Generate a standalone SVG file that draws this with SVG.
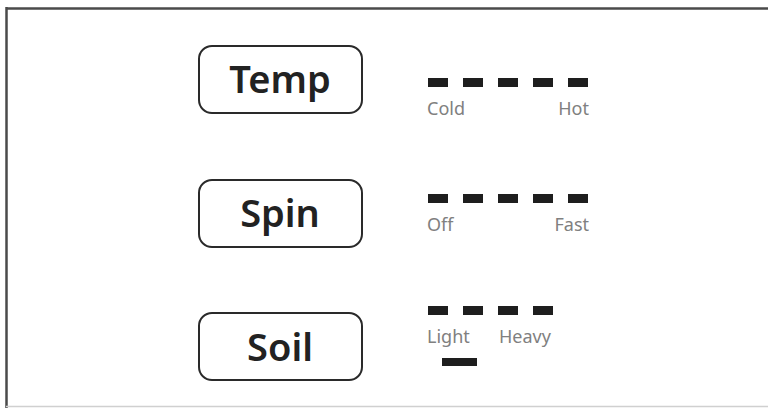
<svg xmlns="http://www.w3.org/2000/svg" width="768" height="408" viewBox="0 0 768 408">
<style>
.btn{fill:#fff;stroke:#2a2a2a;stroke-width:2}
.btxt{font-family:"Noto Sans",sans-serif;font-weight:600;font-size:38px;fill:#222;text-anchor:middle}
.bar{fill:#1e1e1e}
.lbl{font-family:"Noto Sans",sans-serif;font-size:18px;fill:#808080}
</style>
<rect width="768" height="408" fill="#fff"/>
<g id="frame">
<line x1="6" y1="8.5" x2="768" y2="8.5" stroke="#4a4a4a" stroke-width="2.5"/>
<line x1="6.5" y1="7" x2="6.5" y2="408" stroke="#4a4a4a" stroke-width="2.5"/>
<line x1="6" y1="406.5" x2="768" y2="406.5" stroke="#d0d0d0" stroke-width="1.5"/>
</g>
<g id="temp">
<rect class="btn" x="199" y="46" width="163" height="67" rx="13"/>
<text class="btxt" x="280" y="93">Temp</text>
</g>
<g id="temp-scale">
<rect class="bar" x="428" y="78" width="20" height="9"/>
<rect class="bar" x="463" y="78" width="20" height="9"/>
<rect class="bar" x="498" y="78" width="20" height="9"/>
<rect class="bar" x="533" y="78" width="20" height="9"/>
<rect class="bar" x="568" y="78" width="20" height="9"/>
<text class="lbl" x="427" y="115">Cold</text>
<text class="lbl" x="589" y="115" text-anchor="end">Hot</text>
</g>
<g id="spin">
<rect class="btn" x="199" y="180" width="163" height="67" rx="13"/>
<text class="btxt" x="280" y="227">Spin</text>
</g>
<g id="spin-scale">
<rect class="bar" x="428" y="194" width="20" height="9"/>
<rect class="bar" x="463" y="194" width="20" height="9"/>
<rect class="bar" x="498" y="194" width="20" height="9"/>
<rect class="bar" x="533" y="194" width="20" height="9"/>
<rect class="bar" x="568" y="194" width="20" height="9"/>
<text class="lbl" x="427" y="231">Off</text>
<text class="lbl" x="589" y="231" text-anchor="end">Fast</text>
</g>
<g id="soil">
<rect class="btn" x="199" y="313" width="163" height="67" rx="13"/>
<text class="btxt" x="280" y="361">Soil</text>
</g>
<g id="soil-scale">
<rect class="bar" x="428" y="306" width="20" height="9"/>
<rect class="bar" x="463" y="306" width="20" height="9"/>
<rect class="bar" x="498" y="306" width="20" height="9"/>
<rect class="bar" x="533" y="306" width="20" height="9"/>
<text class="lbl" x="427" y="343">Light</text>
<text class="lbl" x="499" y="343">Heavy</text>
<rect class="bar" x="442" y="358" width="35" height="8"/>
</g>
</svg>
